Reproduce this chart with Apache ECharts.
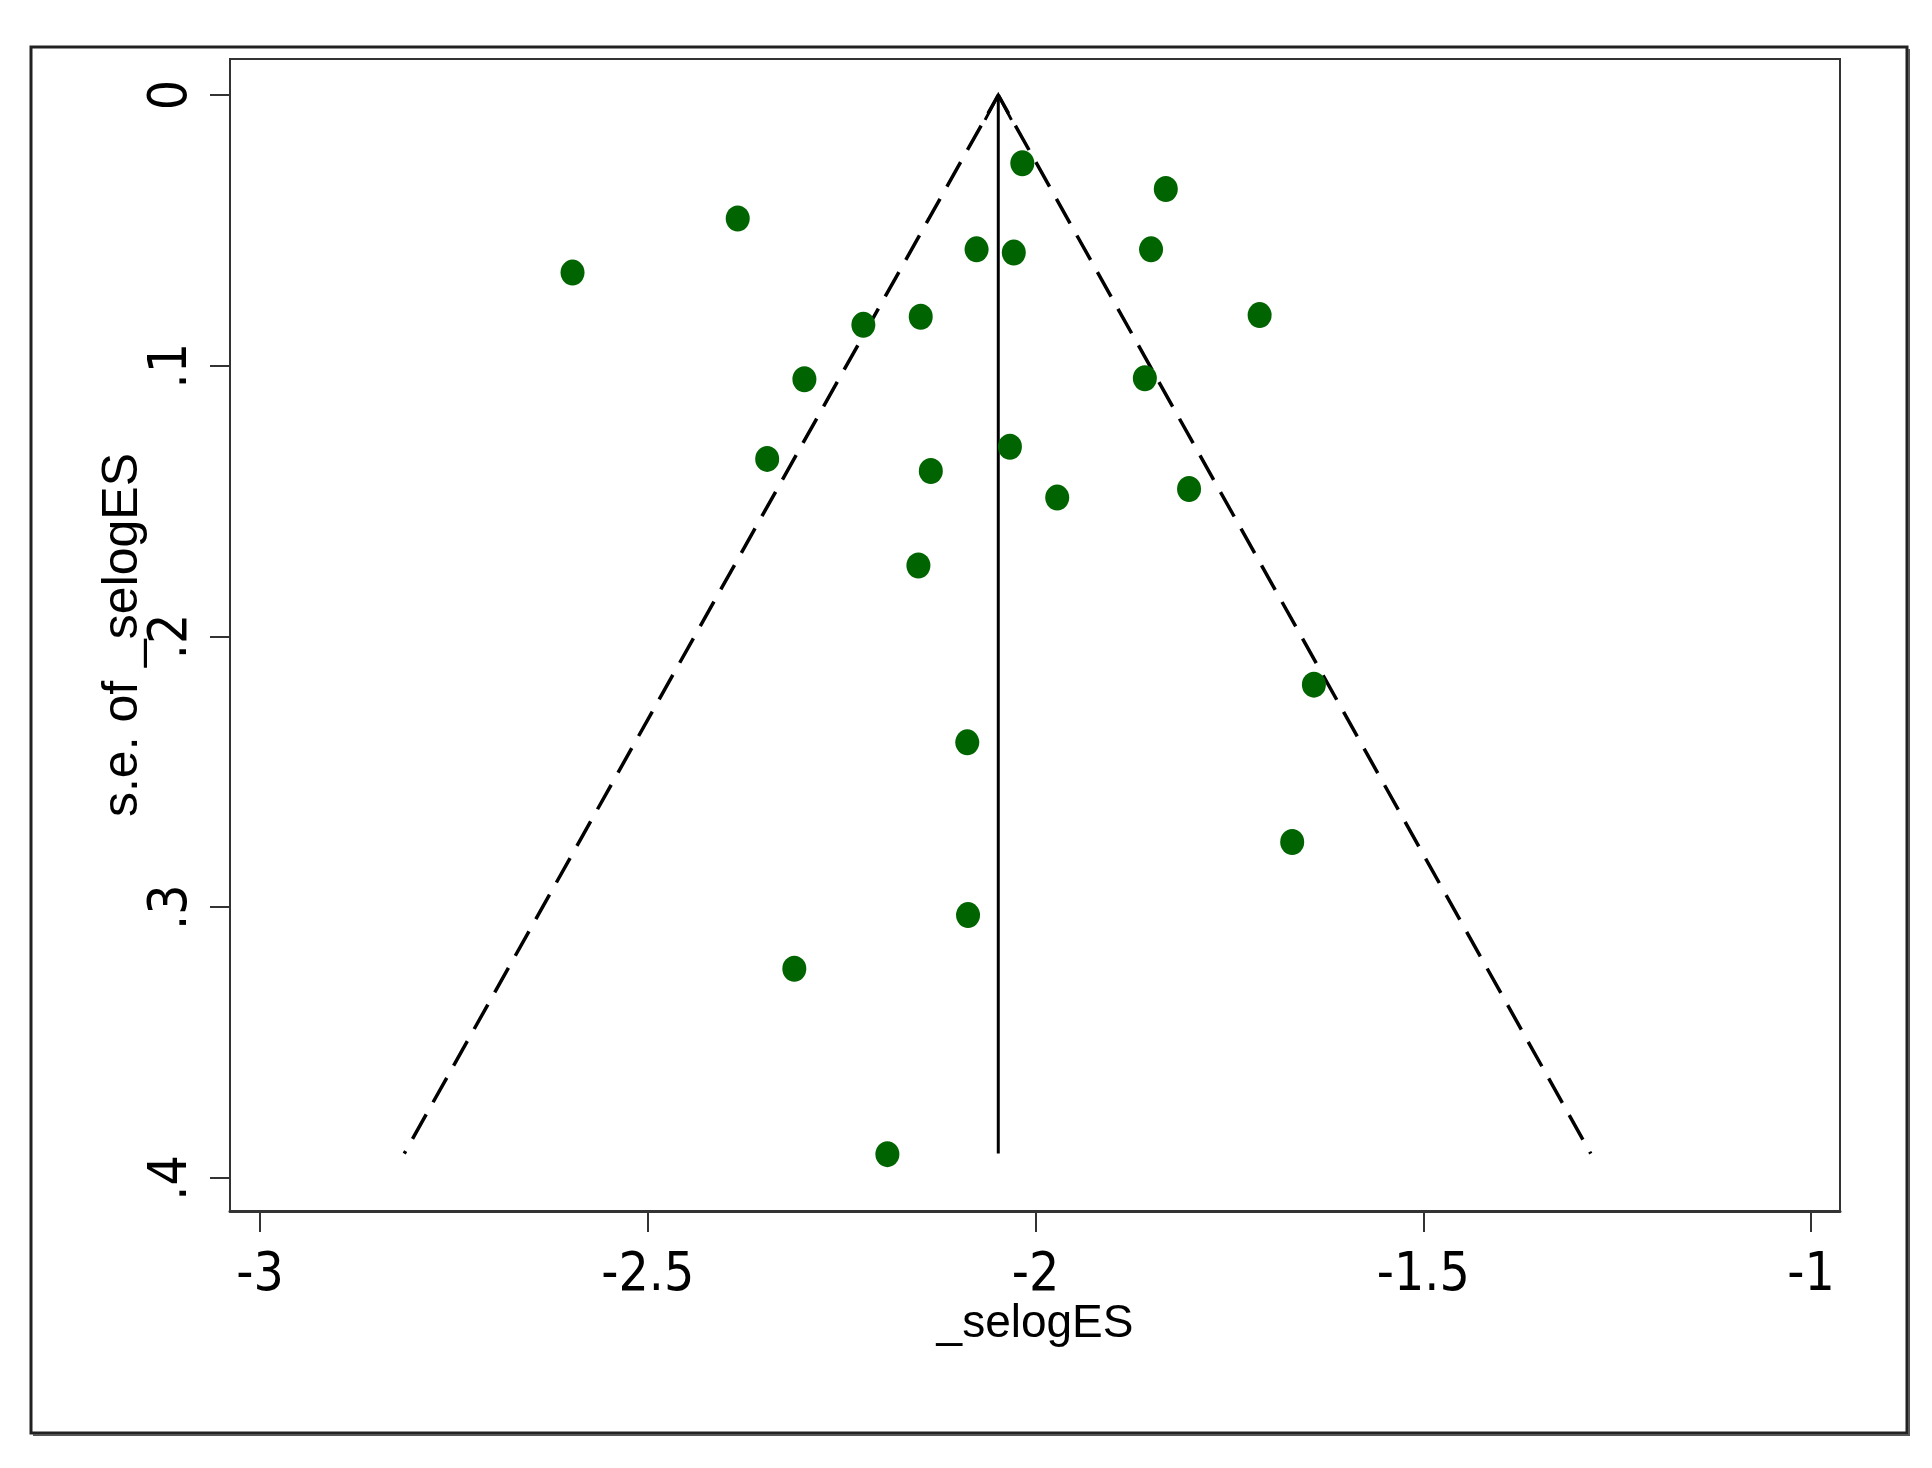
<!DOCTYPE html>
<html>
<head>
<meta charset="utf-8">
<script src="https://cdn.jsdelivr.net/npm/echarts@6/dist/echarts.min.js"></script>
<style>
html, body { margin: 0; padding: 0; background: #fff; }
#chart { width: 1932px; height: 1468px; }
</style>
</head>
<body>
<div id="chart"></div>
<script>
// study effect sizes (log scale) and their standard errors
var esValues = [-2.017, -1.832, -2.384, -2.597, -2.076, -2.028, -1.851, -2.222,
    -2.148, -1.711, -2.298, -1.859, -2.346, -2.033, -2.135, -1.972, -1.802,
    -2.151, -1.641, -2.088, -1.669, -2.087, -2.311, -2.191];
var seValues = [0.0252, 0.0347, 0.0456, 0.0656, 0.0570, 0.0582, 0.0570, 0.0849,
    0.0819, 0.0813, 0.1050, 0.1046, 0.1344, 0.1299, 0.1389, 0.1487, 0.1455,
    0.1738, 0.2178, 0.2391, 0.2759, 0.3029, 0.3227, 0.3912];

// pooled estimate and pseudo 95% limits
var pooledEs = -2.048;
var funnelSe = [0, 0.391];
var lowerLimitEs = [-2.048, -2.814];
var upperLimitEs = [-2.048, -1.284];
var arrowWingEs = [-2.065, -2.031];
var arrowWingSe = 0.0092;

var xTickValues = [-3, -2.5, -2, -1.5, -1];
var xTickLabels = ['-3', '-2.5', '-2', '-1.5', '-1'];
var yTickValues = [0, 0.1, 0.2, 0.3, 0.4];
var yTickLabels = ['0', '.1', '.2', '.3', '.4'];

var chart = echarts.init(document.getElementById('chart'));

function tickLabel(values, labels) {
    return function (v) {
        for (var i = 0; i < values.length; i++) {
            if (Math.abs(values[i] - v) < 1e-6) return labels[i];
        }
        return '';
    };
}

var points = esValues.map(function (x, i) { return [x, seValues[i]]; });
var labelFont = "'Liberation Sans Narrow', 'DejaVu Sans Condensed', sans-serif";
var dashed = { color: '#000', width: 3.5, type: [28, 14], dashOffset: 7 };

var option = {
    backgroundColor: '#fff',
    animation: false,
    grid: {
        left: 230,
        top: 59,
        right: 92,
        bottom: 257,
        show: true,
        borderColor: '#333',
        borderWidth: 2
    },
    xAxis: {
        type: 'value',
        min: -3.0387,
        max: -0.9626,
        name: '_selogES',
        nameLocation: 'middle',
        nameMoveOverlap: false,
        nameGap: 90,
        nameTextStyle: {
            fontFamily: "'Liberation Sans', Arial, sans-serif",
            fontSize: 46,
            color: '#000'
        },
        splitLine: { show: false },
        axisLine: { show: true, onZero: false, lineStyle: { color: '#333', width: 3 } },
        axisTick: {
            show: true,
            length: 21,
            customValues: xTickValues,
            lineStyle: { color: '#333', width: 2 }
        },
        axisLabel: {
            customValues: xTickValues,
            formatter: tickLabel(xTickValues, xTickLabels),
            margin: 39,
            fontFamily: labelFont,
            fontSize: 53,
            color: '#000'
        }
    },
    yAxis: {
        type: 'value',
        inverse: true,
        min: -0.0133,
        max: 0.4122,
        name: 's.e. of _selogES',
        nameLocation: 'middle',
        nameRotate: 90,
        nameMoveOverlap: false,
        nameGap: 82,
        nameTextStyle: {
            fontFamily: "'Liberation Sans', Arial, sans-serif",
            fontSize: 50,
            color: '#000'
        },
        splitLine: { show: false },
        axisLine: { show: true, onZero: false, lineStyle: { color: '#333', width: 2 } },
        axisTick: {
            show: true,
            length: 20,
            customValues: yTickValues,
            lineStyle: { color: '#333', width: 2 }
        },
        axisLabel: {
            customValues: yTickValues,
            formatter: tickLabel(yTickValues, yTickLabels),
            rotate: 90,
            margin: 31,
            fontFamily: labelFont,
            fontSize: 53,
            color: '#000'
        }
    },
    graphic: [
        {
            type: 'rect',
            shape: { x: 31, y: 47, width: 1876, height: 1386 },
            style: { fill: 'none', stroke: '#222', lineWidth: 3 },
            z: 0
        },
        {
            type: 'polyline',
            shape: { points: [[1909, 49], [1909, 1435], [33, 1435]] },
            style: { fill: 'none', stroke: '#555', lineWidth: 2 },
            z: 0
        }
    ],
    series: [
        {
            name: 'lower limit',
            type: 'line',
            symbol: 'none',
            data: [[lowerLimitEs[0], funnelSe[0]], [lowerLimitEs[1], funnelSe[1]]],
            lineStyle: dashed,
            z: 2
        },
        {
            name: 'upper limit',
            type: 'line',
            symbol: 'none',
            data: [[upperLimitEs[0], funnelSe[0]], [upperLimitEs[1], funnelSe[1]]],
            lineStyle: dashed,
            z: 2
        },
        {
            name: 'pooled',
            type: 'line',
            symbol: 'none',
            data: [[pooledEs, funnelSe[0]], [pooledEs, funnelSe[1]]],
            lineStyle: { color: '#000', width: 3 },
            z: 2
        },
        {
            name: 'arrow',
            type: 'line',
            symbol: 'none',
            data: [[arrowWingEs[0], arrowWingSe], [pooledEs, funnelSe[0]], [arrowWingEs[1], arrowWingSe]],
            lineStyle: { color: '#000', width: 3, join: 'miter' },
            z: 2
        },
        {
            name: 'studies',
            type: 'scatter',
            symbol: 'circle',
            symbolSize: [24, 26],
            data: points,
            itemStyle: { color: '#006400', opacity: 1 },
            z: 3
        }
    ]
};

chart.setOption(option);
</script>
</body>
</html>
